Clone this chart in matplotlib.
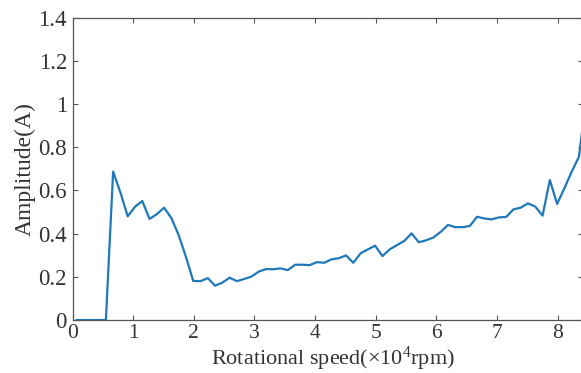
import matplotlib
matplotlib.use("Agg")
import matplotlib.pyplot as plt

# Rotational speed (x10^4 rpm) and measured amplitude (A)
speed = [0.07, 0.19, 0.31, 0.43, 0.55, 0.67, 0.79, 0.91, 1.03, 1.15,
         1.27, 1.39, 1.51, 1.63, 1.75, 1.87, 1.99, 2.11, 2.23, 2.35,
         2.47, 2.59, 2.71, 2.83, 2.95, 3.07, 3.19, 3.31, 3.43, 3.55,
         3.67, 3.79, 3.91, 4.03, 4.15, 4.27, 4.39, 4.51, 4.63, 4.75,
         4.87, 4.99, 5.11, 5.23, 5.35, 5.47, 5.59, 5.71, 5.83, 5.95,
         6.07, 6.19, 6.31, 6.43, 6.55, 6.67, 6.79, 6.91, 7.03, 7.15,
         7.27, 7.39, 7.51, 7.63, 7.75, 7.87, 7.99, 8.11, 8.23, 8.35,
         8.47]
amplitude = [0.0, 0.0, 0.0, 0.0, 0.0, 0.687, 0.59, 0.48, 0.524, 0.551,
             0.468, 0.49, 0.52, 0.472, 0.393, 0.293, 0.181, 0.180, 0.194, 0.159,
             0.173, 0.196, 0.180, 0.190, 0.201, 0.224, 0.236, 0.235, 0.239, 0.231,
             0.256, 0.256, 0.254, 0.268, 0.265, 0.281, 0.286, 0.299, 0.265, 0.309,
             0.327, 0.344, 0.296, 0.327, 0.347, 0.366, 0.401, 0.360, 0.369, 0.382,
             0.408, 0.440, 0.430, 0.430, 0.435, 0.478, 0.470, 0.466, 0.475, 0.477,
             0.512, 0.520, 0.540, 0.525, 0.483, 0.648, 0.537, 0.610, 0.686, 0.756,
             1.03]

xticks = [0, 1, 2, 3, 4, 5, 6, 7, 8]
yticks = [0, 0.2, 0.4, 0.6, 0.8, 1.0, 1.2, 1.4]
ytick_labels = ["0", "0.2", "0.4", "0.6", "0.8", "1", "1.2", "1.4"]

plt.rcParams["font.family"] = ["Liberation Serif", "DejaVu Serif"]
plt.rcParams["mathtext.fontset"] = "custom"
plt.rcParams["mathtext.rm"] = "Liberation Serif"
plt.rcParams["mathtext.default"] = "regular"

fig = plt.figure(figsize=(5.81, 3.73), dpi=100)
# right edge of the box sits just past the picture, as in the source
ax = fig.add_axes([0.1248, 0.142, 0.8795, 0.811])

ax.plot(speed, amplitude, color="#1f78b8", linewidth=1.6)

ax.set_xlim(0, 8.425)
ax.set_ylim(0, 1.4)
ax.set_xticks(xticks)
ax.set_yticks(yticks)
ax.set_yticklabels(ytick_labels)

for s in ax.spines.values():
    s.set_color("#555555")
    s.set_linewidth(0.9)

ax.tick_params(direction="in", length=3.5, width=0.8, color="#555555",
               top=True, right=True, labelsize=16.5, labelcolor="#333333")
ax.tick_params(axis="x", pad=3, labelsize=15.5)
ax.tick_params(axis="y", pad=4)

ax.set_xlabel("Rotational speed(\u00d710$^4$rpm)", fontsize=16, color="#333333")
ax.xaxis.set_label_coords(0.51, -0.081)
ax.set_ylabel("Amplitude(A)", fontsize=17, color="#333333", labelpad=2)

fig.savefig("out.png", dpi=100)
